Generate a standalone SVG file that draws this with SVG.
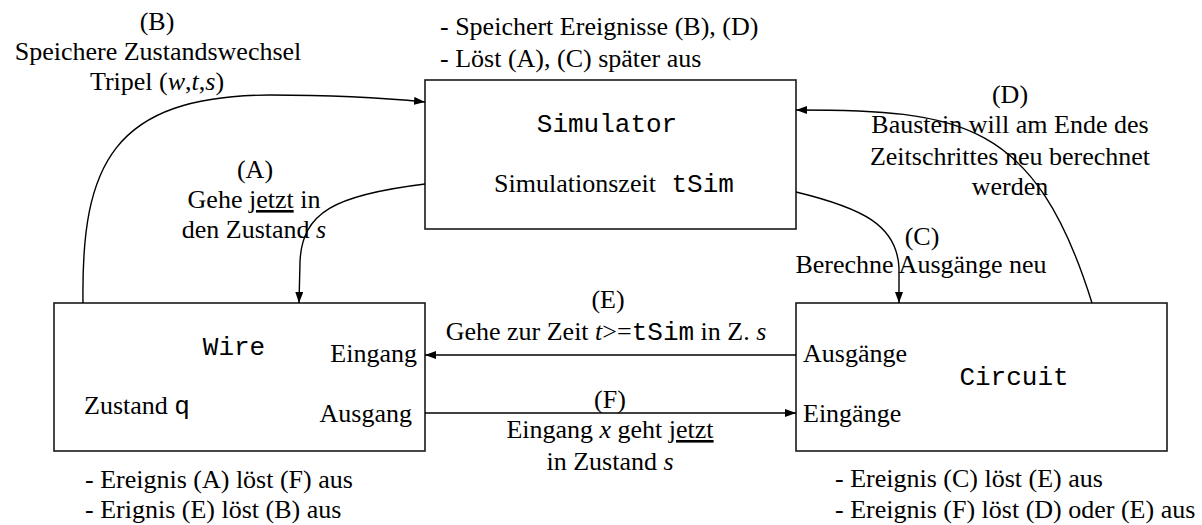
<svg xmlns="http://www.w3.org/2000/svg" width="1202" height="525" viewBox="0 0 1202 525">
<style>
  .box { fill: #fff; stroke: #1a1a1a; stroke-width: 1.6; }
  .t { font-family: "Liberation Serif", "Times New Roman", serif; font-size: 26px; fill: #000; }
  .m { font-family: "Liberation Mono", "Courier New", monospace; font-size: 26px; fill: #000; }
  .i { font-style: italic; }
  .u { text-decoration: underline; }
  .mid { text-anchor: middle; }
  .con { fill: none; stroke: #000; stroke-width: 1.4; }
  .arr { marker-end: url(#ah); }
</style>
<defs>
  <marker id="ah" markerUnits="userSpaceOnUse" markerWidth="12" markerHeight="8" refX="11" refY="4" orient="auto">
    <path d="M0,0 L11,4 L0,8 z" fill="#000"/>
  </marker>
</defs>
<rect width="1202" height="525" fill="#fff"/>

<g id="simulator">
  <rect class="box" x="425" y="80" width="371" height="149"/>
  <text class="m mid" x="607" y="132">Simulator</text>
  <text class="t mid" x="614" y="192">Simulationszeit<tspan class="m"> tSim</tspan></text>
  <text class="t" x="440" y="35">- Speichert Ereignisse (B), (D)</text>
  <text class="t" x="440" y="67">- Löst (A), (C) später aus</text>
</g>

<g id="wire">
  <rect class="box" x="54" y="303" width="371" height="148"/>
  <text class="m mid" x="234" y="355">Wire</text>
  <text class="t" x="84" y="414">Zustand <tspan class="m">q</tspan></text>
  <text class="t" x="417" y="362" text-anchor="end">Eingang</text>
  <text class="t" x="412" y="422" text-anchor="end">Ausgang</text>
  <text class="t" x="85" y="488">- Ereignis (A) löst (F) aus</text>
  <text class="t" x="85" y="518">- Erignis (E) löst (B) aus</text>
</g>

<g id="circuit">
  <rect class="box" x="796" y="303" width="371" height="148"/>
  <text class="m mid" x="1014" y="385">Circuit</text>
  <text class="t" x="803" y="362">Ausgänge</text>
  <text class="t" x="803" y="422">Eingänge</text>
  <text class="t" x="835" y="487">- Ereignis (C) löst (E) aus</text>
  <text class="t" x="835" y="518">- Ereignis (F) löst (D) oder (E) aus</text>
</g>

<g id="connectors">
  <g id="conn-B">
    <path class="con arr" d="M83,303 C81,165 112,96 270,95 C350,95 395,99 425,102"/>
    <text class="t mid" x="157" y="30">(B)</text>
    <text class="t mid" x="158" y="60">Speichere Zustandswechsel</text>
    <text class="t mid" x="157" y="90">Tripel (<tspan class="i">w</tspan>,<tspan class="i">t</tspan>,<tspan class="i">s</tspan>)</text>
  </g>
  <g id="conn-A">
    <path class="con arr" d="M425,184 C335,195 302,212 300,262 L299,303"/>
    <text class="t mid" x="255" y="178">(A)</text>
    <text class="t mid" x="254" y="208">Gehe <tspan class="u">jetzt</tspan> in</text>
    <text class="t mid" x="254" y="238">den Zustand <tspan class="i">s</tspan></text>
  </g>
  <g id="conn-C">
    <path class="con arr" d="M796,192 C862,208 897,225 899,268 L899,303"/>
    <text class="t mid" x="922" y="245">(C)</text>
    <text class="t mid" x="921" y="273">Berechne Ausgänge neu</text>
  </g>
  <g id="conn-D">
    <path class="con arr" d="M1092,303 C1035,120 960,110 796,110"/>
    <text class="t mid" x="1010" y="103">(D)</text>
    <text class="t mid" x="1010" y="133">Baustein will am Ende des</text>
    <text class="t mid" x="1010" y="165">Zeitschrittes neu berechnet</text>
    <text class="t mid" x="1010" y="195">werden</text>
  </g>
  <g id="conn-E">
    <path class="con arr" d="M796,355 L425,355"/>
    <text class="t mid" x="608" y="308">(E)</text>
    <text class="t mid" x="606" y="340">Gehe zur Zeit <tspan class="i">t</tspan>&gt;=<tspan class="m">tSim</tspan> in Z. <tspan class="i">s</tspan></text>
  </g>
  <g id="conn-F">
    <path class="con arr" d="M425,413 L796,413"/>
    <text class="t mid" x="610" y="408">(F)</text>
    <text class="t mid" x="610" y="438">Eingang <tspan class="i">x</tspan> geht <tspan class="u">jetzt</tspan></text>
    <text class="t mid" x="610" y="470">in Zustand <tspan class="i">s</tspan></text>
  </g>
</g>
</svg>
